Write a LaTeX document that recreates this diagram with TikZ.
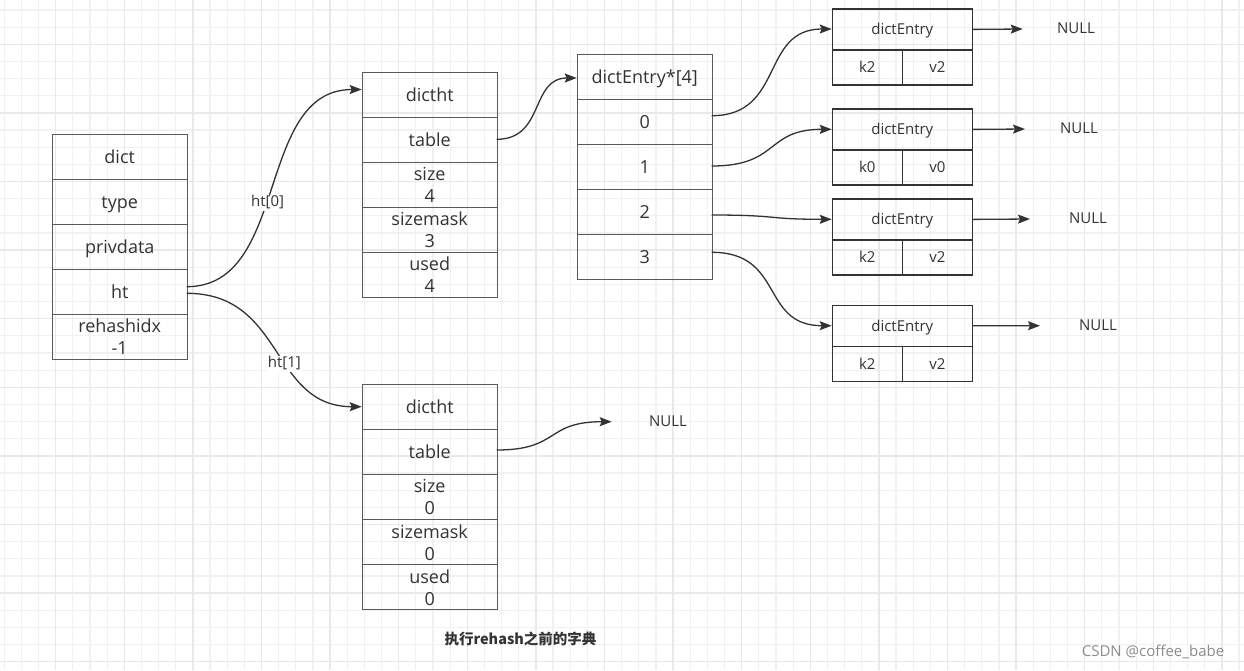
\documentclass[tikz,border=0pt]{standalone}
\usepackage{fontspec}
\setmainfont{Open Sans}
\newfontfamily\cjkfont{Noto Sans CJK SC}
\usetikzlibrary{arrows.meta}
\definecolor{gridminor}{HTML}{F1F1F1}
\definecolor{gridmajor}{HTML}{E9E9E9}
\definecolor{boxc}{HTML}{5A5A5A}
\definecolor{entc}{HTML}{333333}
\definecolor{txt}{HTML}{333333}
\definecolor{linec}{HTML}{333333}
\tikzset{
  celltwo/.style={draw=boxc, line width=1pt, minimum width=135pt, minimum height=45pt,
    inner sep=0pt, anchor=north west, align=center, text=txt,
    font=\fontsize{18}{22}\selectfont},
  cell/.style={celltwo, text height=13.5pt, text depth=0.5pt},
  enthead/.style={draw=entc, line width=1.2pt, minimum width=140pt, minimum height=41pt,
    inner sep=0pt, anchor=north west, text=txt, text height=11pt, text depth=0.5pt,
    font=\fontsize{15}{18}\selectfont},
  entcell/.style={draw=entc, line width=1.2pt, minimum width=70pt, minimum height=35pt,
    inner sep=0pt, anchor=north west, text=txt, text height=11pt, text depth=0.5pt,
    font=\fontsize{15}{18}\selectfont},
  nulltxt/.style={text=txt, font=\fontsize{15}{18}\selectfont, inner sep=0pt,
    text height=11pt, text depth=0.5pt},
  conn/.style={draw=linec, line width=1.3pt, -{Stealth[length=12pt,width=9pt,inset=2pt]}},
  lbl/.style={fill=white, text=txt, font=\fontsize{15}{18}\selectfont, inner sep=1pt,
    text height=11pt, text depth=3pt}
}
\begin{document}
\begin{tikzpicture}[x=1pt,y=-1pt]
\useasboundingbox (0,0) rectangle (1244,670);
\fill[white] (0,0) rectangle (1244,670);
% grid
\foreach \i in {-3,...,69} {
  \draw[gridminor, line width=1.2pt] ({55.7+17.15*\i},0) -- ({55.7+17.15*\i},670);
}
\foreach \i in {-3,...,39} {
  \draw[gridminor, line width=1.2pt] (0,{44.3+17.15*\i}) -- (1244,{44.3+17.15*\i});
}
\foreach \i in {-1,...,17} {
  \draw[gridmajor, line width=1.3pt] ({55.7+68.6*\i},0) -- ({55.7+68.6*\i},670);
}
\foreach \i in {-1,...,9} {
  \draw[gridmajor, line width=1.3pt] (0,{44.3+68.6*\i}) -- (1244,{44.3+68.6*\i});
}
% dict
\node[cell] (d1) at (51.7,133.7) {dict};
\node[cell] (d2) at (51.7,178.7) {type};
\node[cell] (d3) at (51.7,223.7) {privdata};
\node[cell] (d4) at (51.7,268.7) {ht};
\node[celltwo] (d5) at (51.7,313.7) {rehashidx\\-1};
% dictht 0
\node[cell] (a1) at (361.7,71.7) {dictht};
\node[cell] (a2) at (361.7,116.7) {table};
\node[celltwo] (a3) at (361.7,161.7) {size\\4};
\node[celltwo] (a4) at (361.7,206.7) {sizemask\\3};
\node[celltwo] (a5) at (361.7,251.7) {used\\4};
% array
\node[cell] (r0) at (576.7,54) {dictEntry*[4]};
\node[cell] (r1) at (576.7,98.7) {0};
\node[cell] (r2) at (576.7,143.7) {1};
\node[cell] (r3) at (576.7,188.7) {2};
\node[cell] (r4) at (576.7,233.7) {3};
% dictht 1
\node[cell] (b1) at (361.7,384) {dictht};
\node[cell] (b2) at (361.7,429.3) {table};
\node[celltwo] (b3) at (361.7,474.3) {size\\0};
\node[celltwo] (b4) at (361.7,519.3) {sizemask\\0};
\node[celltwo] (b5) at (361.7,564.3) {used\\0};
% entries
\node[enthead] (e0) at (831.7,8.3) {dictEntry};
\node[entcell] (e0k) at (831.7,49.3) {k2};
\node[entcell] (e0v) at (901.7,49.3) {v2};
\node[enthead] (e1) at (831.7,108.3) {dictEntry};
\node[entcell] (e1k) at (831.7,149.3) {k0};
\node[entcell] (e1v) at (901.7,149.3) {v0};
\node[enthead] (e2) at (831.7,198.3) {dictEntry};
\node[entcell] (e2k) at (831.7,239.3) {k2};
\node[entcell] (e2v) at (901.7,239.3) {v2};
\node[enthead] (e3) at (831.7,304.7) {dictEntry};
\node[entcell] (e3k) at (831.7,345.7) {k2};
\node[entcell] (e3v) at (901.7,345.7) {v2};
% NULL texts
\node[nulltxt] (n0) at (1076,28.5) {NULL};
\node[nulltxt] (n1) at (1079,128.5) {NULL};
\node[nulltxt] (n2) at (1088,218.5) {NULL};
\node[nulltxt] (n3) at (1098,325.5) {NULL};
\node[nulltxt] (nb) at (668,421.5) {NULL};
\coordinate (t0) at (1022.7,29);
\coordinate (t1) at (1025,129);
\coordinate (t2) at (1030,219);
\coordinate (t3) at (1040,325.7);
\coordinate (tb) at (611.7,421.7);
% ht connectors
\coordinate (s0) at (186.7,286.7);
\coordinate (s1) at (186.7,293.3);
\coordinate (h0) at (361.7,89.5);
\coordinate (h1) at (361.7,406.7);
\draw[conn] (s0) .. controls (290,286.7) and (255,89.5) .. (h0)
  node[lbl, pos=0.45] (l0) {ht[0]};
\draw[conn] (s1) .. controls (285,293.3) and (270,406.7) .. (h1)
  node[lbl, pos=0.58, xshift=-2pt] (l1) {ht[1]};
% table -> array
\coordinate (ts) at (496.7,139.3);
\coordinate (ah) at (576.7,78);
\draw[conn] (ts) .. controls (545,139.3) and (530,78) .. (ah);
% array -> entries
\coordinate (c0) at (711.7,115.7);
\coordinate (c1) at (711.7,166);
\coordinate (c2) at (711.7,215);
\coordinate (c3) at (711.7,252.3);
\coordinate (p0) at (831.7,29);
\coordinate (p1) at (831.7,129.3);
\coordinate (p2) at (831.7,219.3);
\coordinate (p3) at (831.7,325.7);
\draw[conn] (c0) .. controls (785,115.7) and (760,29) .. (p0);
\draw[conn] (c1) .. controls (780,166) and (765,129.3) .. (p1);
\draw[conn] (c2) .. controls (780,215) and (765,219.3) .. (p2);
\draw[conn] (c3) .. controls (785,252.3) and (760,325.7) .. (p3);
% entries -> NULL
\draw[conn] (e0.east) -- (t0);
\draw[conn] (e1.east) -- (t1);
\draw[conn] (e2.east) -- (t2);
\draw[conn] (e3.east) -- (t3);
% dictht 1 table -> NULL
\coordinate (tbs) at (496.7,450);
\draw[conn] (tbs) .. controls (560,450) and (545,421.7) .. (tb);
% caption
\node[text=txt, font=\cjkfont\bfseries\fontsize{14.5}{17}\selectfont, inner sep=0pt] (cap) at (520.5,639) {执行rehash之前的字典};
\node[text=black!45, font=\fontsize{15}{18}\selectfont, inner sep=0pt] (wm) at (1153,652) {CSDN @coffee\_babe};
\end{tikzpicture}
\end{document}
